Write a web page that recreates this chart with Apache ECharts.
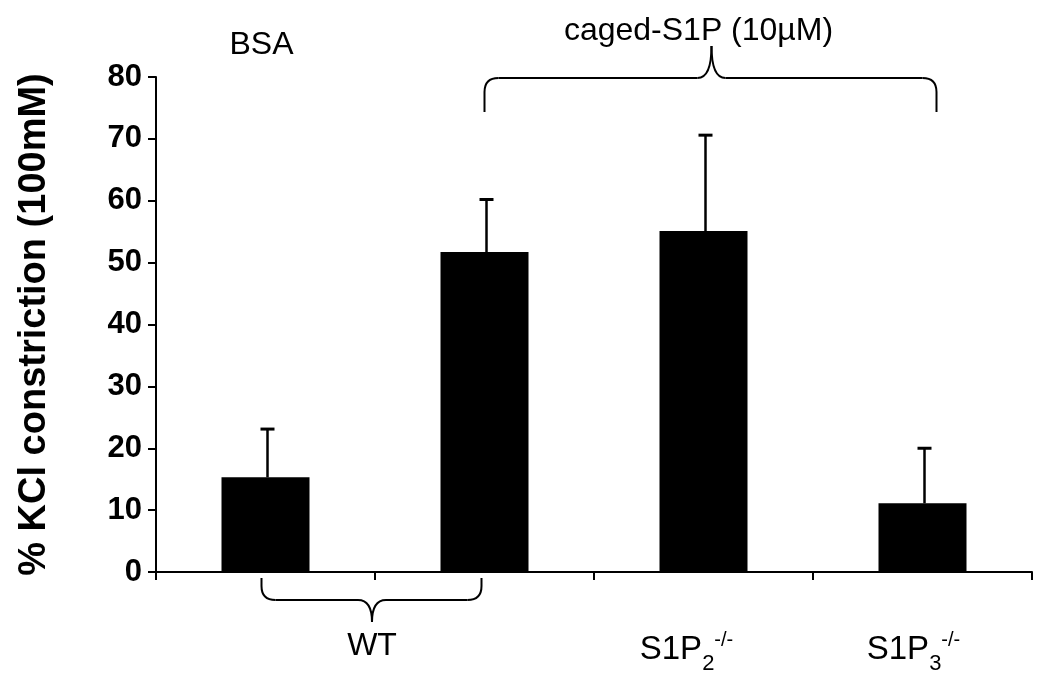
<!DOCTYPE html>
<html>
<head>
<meta charset="utf-8">
<script src="https://cdn.jsdelivr.net/npm/echarts@6/dist/echarts.min.js"></script>
<style>html,body{margin:0;padding:0;background:#fff}#c{width:1050px;height:681px}</style>
</head>
<body>
<div id="c"></div>
<script>
var categories = ['BSA WT', 'caged-S1P WT', 'caged-S1P S1P2-/-', 'caged-S1P S1P3-/-'];
var means = [15.3, 51.7, 55.1, 11.1];
var errUpper = [23.1, 60.2, 70.6, 20.0];
var yTicks = [0, 10, 20, 30, 40, 50, 60, 70, 80];

var FONT = 'Liberation Sans, Arial, sans-serif';
var chart = echarts.init(document.getElementById('c'));

var option = {
  animation: false,
  backgroundColor: '#fff',
  grid: { left: 156, right: 18, top: 77, bottom: 109, containLabel: false },
  xAxis: {
    type: 'category',
    data: categories,
    axisLine: { lineStyle: { color: '#000', width: 2 } },
    axisTick: { show: true, length: 8, lineStyle: { color: '#000', width: 2 } },
    axisLabel: {
      margin: 58,
      interval: 0,
      formatter: function (v, i) {
        if (i === 2) return '{b|S1P}{sub|2}{sup|-/-}{sp2|}';
        if (i === 3) return '{b|S1P}{sub|3}{sup|-/-}{sp3|}';
        return '';
      },
      rich: {
        b: { fontFamily: FONT, fontSize: 33, color: '#000', verticalAlign: 'bottom', lineHeight: 36 },
        sub: { fontFamily: FONT, fontSize: 22, color: '#000', verticalAlign: 'bottom', lineHeight: 26, padding: [0, 0, -9, 0] },
        sup: { fontFamily: FONT, fontSize: 20, color: '#000', verticalAlign: 'top', lineHeight: 20, padding: [0, 0, 16, 0] },
        sp2: { width: 34 },
        sp3: { width: 18 }
      }
    }
  },
  yAxis: {
    type: 'value',
    min: 0, max: 80, interval: 10,
    name: '% KCl constriction (100mM)',
    nameLocation: 'middle',
    nameGap: 102,
    nameTextStyle: { fontFamily: FONT, fontSize: 38, fontWeight: 'bold', color: '#000' },
    axisLine: { show: true, lineStyle: { color: '#000', width: 2 } },
    axisTick: { show: true, length: 8, lineStyle: { color: '#000', width: 2 } },
    splitLine: { show: false },
    axisLabel: {
      margin: 14,
      fontFamily: FONT, fontSize: 31, fontWeight: 'bold', color: '#000',
      formatter: function (v) { return yTicks.indexOf(v) >= 0 ? String(v) : ''; }
    }
  },
  series: [
    {
      type: 'bar',
      data: means,
      barWidth: 88,
      itemStyle: { color: '#000' },
      z: 2
    },
    {
      type: 'custom',
      z: 3,
      data: means.map(function (m, i) { return [i, m, errUpper[i]]; }),
      renderItem: function (params, api) {
        var base = api.coord([api.value(0), api.value(1)]);
        var top = api.coord([api.value(0), api.value(2)]);
        var x = base[0] + 2;
        return {
          type: 'group',
          children: [
            { type: 'line', shape: { x1: x, y1: base[1], x2: x, y2: top[1] }, style: { stroke: '#000', lineWidth: 2.5 } },
            { type: 'line', shape: { x1: x - 7, y1: top[1], x2: x + 7, y2: top[1] }, style: { stroke: '#000', lineWidth: 3 } }
          ]
        };
      }
    }
  ]
};
chart.setOption(option);

function px(i, v) { return chart.convertToPixel({ gridIndex: 0 }, [i, v]); }

function brace(left, right, yEnd, yMid, yTip, xc, r) {
  var s = yMid > yEnd ? 1 : -1;
  var st = { stroke: '#000', lineWidth: 2, fill: null };
  function ln(x1, y1, x2, y2) { return { type: 'line', shape: { x1: x1, y1: y1, x2: x2, y2: y2 }, style: st }; }
  function q(x1, y1, cx, cy, x2, y2) { return { type: 'bezierCurve', shape: { x1: x1, y1: y1, cpx1: cx, cpy1: cy, x2: x2, y2: y2 }, style: st }; }
  return [
    ln(left, yEnd, left, yMid - s * r),
    q(left, yMid - s * r, left, yMid, left + r, yMid),
    ln(left + r, yMid, xc - r, yMid),
    q(xc - r, yMid, xc, yMid, xc, yTip),
    q(xc, yTip, xc, yMid, xc + r, yMid),
    ln(xc + r, yMid, right - r, yMid),
    q(right - r, yMid, right, yMid, right, yMid - s * r),
    ln(right, yMid - s * r, right, yEnd)
  ];
}

var p0 = px(0, 0), p1 = px(1, 0), p2 = px(2, 0), p3 = px(3, 0);
var axisY = p0[1];
var topY = px(0, 80)[1];

var wl = p0[0] - 4, wr = p1[0] - 3, wc = (p0[0] + p1[0]) / 2 - 3;
var cl = p1[0], cr = p3[0] + 14, cc = (p2[0] + 8);

var gr = [].concat(
  brace(wl, wr, axisY + 6, axisY + 28, axisY + 50, wc, 14),
  brace(cl, cr, topY + 35, topY + 1, topY - 31, cc, 14),
  [
    { type: 'text', x: wc, y: axisY + 74, style: { text: 'WT', font: '32px ' + FONT, fill: '#000', textAlign: 'center', textVerticalAlign: 'middle' } },
    { type: 'text', x: p0[0] - 4, y: 45, style: { text: 'BSA', font: '32px ' + FONT, fill: '#000', textAlign: 'center', textVerticalAlign: 'middle' } },
    { type: 'text', x: cc - 13, y: 31, style: { text: 'caged-S1P (10µM)', font: '32px ' + FONT, fill: '#000', textAlign: 'center', textVerticalAlign: 'middle' } }
  ]
);
chart.setOption({ graphic: gr });
</script>
</body>
</html>
